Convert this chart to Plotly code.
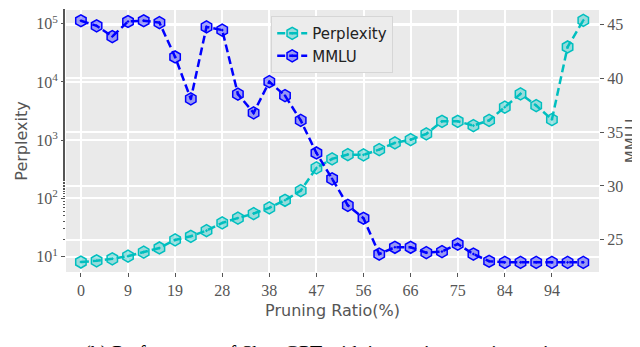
import plotly.graph_objects as go

# layers removed (0..32), shown as pruning ratio ticks
layers = list(range(33))
tick_layers = [0, 3, 6, 9, 12, 15, 18, 21, 24, 27, 30]
tick_labels = ['0', '9', '19', '28', '38', '47', '56', '66', '75', '84', '94']

perplexity = [8.1, 8.5, 9.2, 10.2, 12.0, 14.1, 19.4, 22.4, 28, 38, 46,
              55, 69, 93, 136, 334, 477, 566, 560, 690, 900, 1020, 1280,
              2110, 2110, 1780, 2190, 3690, 6240, 3930, 2260, 39800, 114000]

mmlu = [45.37, 44.9, 43.9, 45.3, 45.37, 45.2, 42.0, 38.1, 44.8, 44.5, 38.55,
        36.8, 39.7, 38.4, 36.1, 33.07, 30.67, 28.2, 27.0, 23.67, 24.3, 24.3,
        23.8, 23.9, 24.6, 23.67, 23.0, 22.9, 22.9, 22.9, 22.9, 22.9, 22.9]

cyan = '#00BFBF'
blue = '#0000FF'
grey_txt = '#555555'
serif = 'Liberation Serif'
sans = 'DejaVu Sans'

fig = go.Figure()

fig.add_trace(go.Scatter(
    x=layers, y=perplexity, name='Perplexity', mode='lines+markers',
    line=dict(color=cyan, width=2.5, dash='8px,4px'),
    marker=dict(symbol='hexagon-dot', size=12, color='rgba(0,191,191,0.35)',
                line=dict(color=cyan, width=1.5)),
    yaxis='y'))

fig.add_trace(go.Scatter(
    x=layers, y=mmlu, name='MMLU', mode='lines+markers',
    line=dict(color=blue, width=2.5, dash='8px,4px'),
    marker=dict(symbol='hexagon-dot', size=12, color='rgba(0,0,255,0.35)',
                line=dict(color=blue, width=1.5)),
    yaxis='y2'))

fig.update_layout(
    width=640, height=347,
    margin=dict(l=58, r=49, t=2, b=83),
    paper_bgcolor='white',
    plot_bgcolor='#EAEAEA',
    showlegend=True,
    legend=dict(x=0.385, y=0.977, xanchor='left', yanchor='top',
                bgcolor='#ECECEC', bordercolor='#D6D6D6', borderwidth=1,
                font=dict(family=sans, size=15, color='#222222'),
                tracegroupgap=2),
    xaxis=dict(
        range=[-0.95, 33.0], tickmode='array', tickvals=tick_layers,
        ticktext=tick_labels, showgrid=True, gridcolor='white', gridwidth=1.5,
        zeroline=False, ticks='outside', ticklen=4, tickcolor=grey_txt,
        tickfont=dict(family=serif, size=16, color=grey_txt),
        title=dict(text='Pruning Ratio(%)', standoff=6,
                   font=dict(family=sans, size=16, color=grey_txt))),
    yaxis=dict(
        type='log', range=[0.737, 5.235], tickmode='array',
        tickvals=[10, 100, 1000, 10000, 100000],
        ticktext=['10<sup>1</sup>', '10<sup>2</sup>', '10<sup>3</sup>',
                  '10<sup>4</sup>', '10<sup>5</sup>'],
        showgrid=True, gridcolor='white', gridwidth=1.5, zeroline=False,
        ticks='outside', ticklen=4, tickcolor=grey_txt,
        minor=dict(ticks='outside', ticklen=2, tickcolor=grey_txt, showgrid=False),
        tickfont=dict(family=serif, size=16, color=grey_txt),
        title=dict(text='Perplexity', standoff=4,
                   font=dict(family=sans, size=16, color=grey_txt))),
    yaxis2=dict(
        overlaying='y', side='right', range=[22.0, 46.37],
        tickvals=[25, 30, 35, 40, 45], showgrid=True, gridcolor='white',
        gridwidth=1.5, zeroline=False, ticks='outside', ticklen=4,
        tickcolor=grey_txt,
        tickfont=dict(family=serif, size=16, color=grey_txt),
        title=dict(text='MMLU', standoff=0,
                   font=dict(family=sans, size=15, color=grey_txt))),
)

fig.add_annotation(
    text='(b) Performance of ShortGPT with increasing pruning ratio',
    xref='paper', yref='paper', x=0.48, y=-0.26, xanchor='center',
    yanchor='top', showarrow=False,
    font=dict(family='Liberation Serif', size=20, color='black'))

fig.write_html("out.html")
